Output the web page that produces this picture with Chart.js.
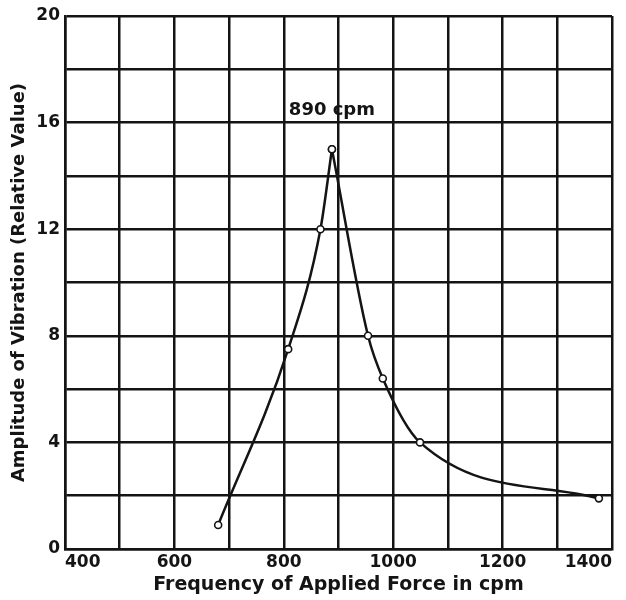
<!DOCTYPE html>
<html>
<head>
<meta charset="utf-8">
<title>Amplitude of Vibration vs Frequency</title>
<script src="https://cdn.jsdelivr.net/npm/chart.js@4/dist/chart.umd.min.js"></script>
<style>
  html, body { margin: 0; padding: 0; background: #fff; }
  #chart1 { display: block; }
</style>
</head>
<body>
<canvas id="chart1" width="626" height="600"></canvas>
<script>
// CHART DATA
// -----------------------------
let freq = [680, 808, 867, 888, 954, 981, 1049, 1376];
let amp = [0.9, 7.5, 12, 15, 8, 6.4, 4, 1.9];
let peakIndex = 3;
let peakLabel = '890 cpm';

let xTicks = [400, 600, 800, 1000, 1200, 1400];
let yTicks = [0, 4, 8, 12, 16, 20];

// rising and falling branches meet at the resonance peak (sharp cusp)
let points = freq.map((f, i) => ({ x: f, y: amp[i] }));
let rising = points.slice(0, peakIndex + 1);
let falling = points.slice(peakIndex);

// CHART CONFIG
// -----------------------------
let ink = '#141414';
Chart.defaults.font.family = "'DejaVu Sans', sans-serif";
Chart.defaults.font.weight = 'bold';
Chart.defaults.color = ink;

let branch = (data) => ({
  data: data,
  showLine: true,
  borderColor: ink,
  borderWidth: 2.5,
  cubicInterpolationMode: 'monotone',
  pointRadius: 3.5,
  pointBorderWidth: 1.6,
  pointBackgroundColor: '#fff',
  pointBorderColor: ink,
});

// draws the "890 cpm" note over the peak
let peakNote = {
  id: 'peakNote',
  afterDatasetsDraw(chart) {
    let { ctx, scales } = chart;
    let px = scales.x.getPixelForValue(freq[peakIndex]);
    let py = scales.y.getPixelForValue(amp[peakIndex]);
    ctx.save();
    ctx.font = "bold 18px 'DejaVu Sans', sans-serif";
    ctx.fillStyle = ink;
    ctx.textAlign = 'center';
    ctx.textBaseline = 'alphabetic';
    ctx.fillText(peakLabel, px, py - 34);
    ctx.restore();
  },
};

let chart1Data = {
  type: 'scatter',
  data: { datasets: [branch(rising), branch(falling)] },
  options: {
    responsive: false,
    animation: false,
    layout: { padding: { left: 0, top: 16, right: 14, bottom: 0 } },
    plugins: { legend: { display: false }, tooltip: { enabled: false } },
    scales: {
      x: {
        type: 'linear',
        min: 400,
        max: 1400,
        afterFit: (s) => { s.height = 51; },
        border: { display: true, color: ink, width: 2.5 },
        grid: { color: ink, lineWidth: 2.5, drawTicks: false },
        ticks: {
          stepSize: 100,
          autoSkip: false,
          maxRotation: 0,
          align: 'inner',
          padding: 3,
          font: { size: 17 },
          callback: (v) => (xTicks.includes(v) ? String(v) : ''),
        },
        title: {
          display: true,
          text: 'Frequency of Applied Force in cpm',
          font: { size: 19 },
          padding: { top: 0, bottom: 4 },
        },
      },
      y: {
        min: 0,
        max: 20,
        afterFit: (s) => { s.width = 65; },
        border: { display: true, color: ink, width: 2.5 },
        grid: { color: ink, lineWidth: 2.5, drawTicks: false },
        ticks: {
          stepSize: 2,
          autoSkip: false,
          padding: 5,
          font: { size: 17 },
          callback: (v) => (yTicks.includes(v) ? String(v) : ''),
        },
        title: {
          display: true,
          text: 'Amplitude of Vibration (Relative Value)',
          font: { size: 18 },
          padding: { top: 9, bottom: 0 },
        },
      },
    },
  },
  plugins: [peakNote],
};

// RENDER CHART
// -----------------------------
new Chart(document.getElementById('chart1'), chart1Data);
</script>
</body>
</html>
